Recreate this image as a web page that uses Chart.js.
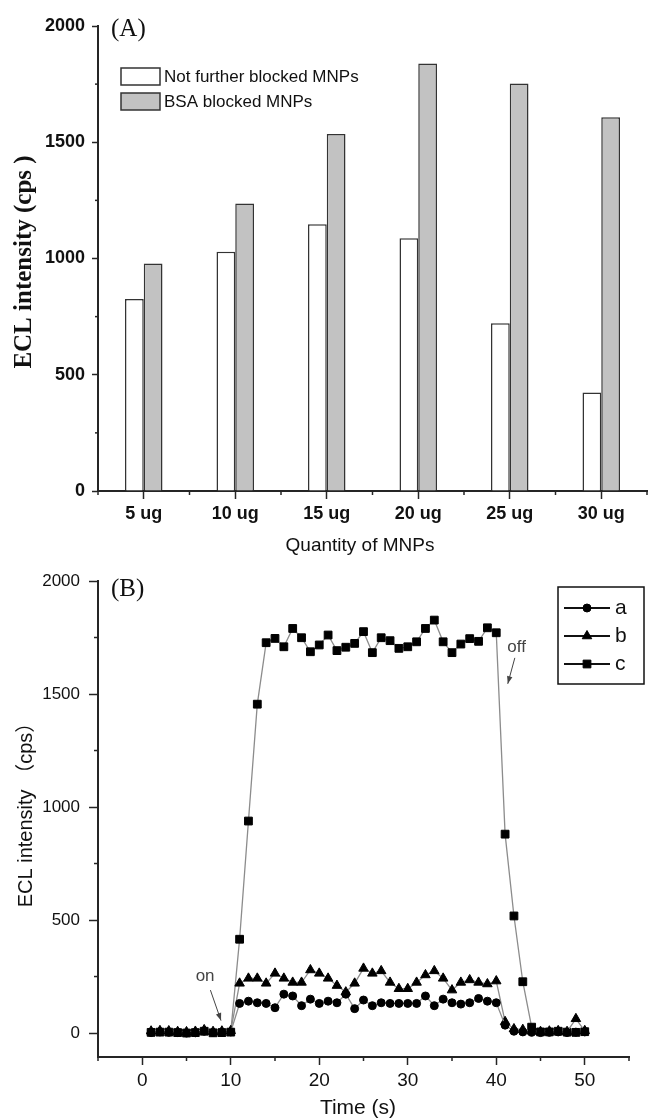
<!DOCTYPE html>
<html><head><meta charset="utf-8">
<script src="https://cdn.jsdelivr.net/npm/chart.js@4.4.1/dist/chart.umd.min.js"></script>
<style>
html,body{margin:0;padding:0;background:#fff;}
#wrap{position:relative;width:648px;height:1120px;background:#fff;}
canvas{position:absolute;left:0;display:block;}
#ca{top:0}
#cb{top:560px}
</style></head><body>
<div id="wrap">
<canvas id="ca" width="648" height="560"></canvas>
<canvas id="cb" width="648" height="560"></canvas>
</div>
<script>
// ---------- data: panel (A) ----------
const quantities = ['5 ug', '10 ug', '15 ug', '20 ug', '25 ug', '30 ug'];
const notBlocked = [826, 1029, 1147, 1087, 721, 424];
const bsaBlocked = [978, 1237, 1535, 1839, 1753, 1607];
const intensityTicksA = [0, 500, 1000, 1500, 2000];

// ---------- data: panel (B) ----------
const times = [1,2,3,4,5,6,7,8,9,10,11,12,13,14,15,16,17,18,19,20,21,22,23,24,25,26,27,28,29,30,31,32,33,34,35,36,37,38,39,40,41,42,43,44,45,46,47,48,49,50];
const seriesA = [2,5,3,2,0,1,8,2,3,5, 131,141,134,131,112,172,164,121,150,131, 141,134,172,108,146,121,134,131,131,131, 131,164,121,150,134,128,134,153,141,134, 35,8,5,3,2,3,5,2,4,5];
const seriesB = [8,10,9,6,5,7,14,6,8,10, 220,242,242,220,264,242,224,224,279,264, 242,210,181,220,286,264,275,224,196,196, 224,257,275,242,190,224,235,224,217,230, 50,18,15,8,6,8,10,6,63,10];
const seriesC = [3,4,4,2,0,2,8,1,2,4, 415,938,1455,1727,1746,1709,1790,1749,1687,1717, 1761,1692,1707,1724,1776,1683,1749,1736,1702,1709, 1731,1790,1827,1731,1683,1721,1745,1733,1793,1771, 880,518,227,26,5,5,8,4,3,6];
const timeTicks = [0, 10, 20, 30, 40, 50];
const intensityTicksB = [0, 500, 1000, 1500, 2000];

const SANS = "'Liberation Sans', Arial, Helvetica, sans-serif";
const SERIF = "'Liberation Serif', 'Times New Roman', serif";
const AXIS = '#252525';
const TXT = '#111';
Chart.defaults.font.family = SANS;
Chart.defaults.color = TXT;

function seg(ctx, x1, y1, x2, y2) { ctx.beginPath(); ctx.moveTo(x1, y1); ctx.lineTo(x2, y2); ctx.stroke(); }
const plain = v => String(v);

// ---------- panel A ----------
const decorA = {
  id: 'decorA',
  afterDraw(chart) {
    const { ctx, chartArea: ca, scales: { x, y } } = chart;
    ctx.save();
    ctx.strokeStyle = AXIS; ctx.lineWidth = 1.5;
    for (let v = 250; v < 2000; v += 500) {
      const py = y.getPixelForValue(v);
      seg(ctx, ca.left - 3, py, ca.left, py);
    }
    const n = chart.data.labels.length;
    const w = (ca.right - ca.left) / n;
    for (let i = 0; i <= n; i++) {
      const px = ca.left + i * w;
      seg(ctx, px, ca.bottom, px, ca.bottom + 4);
    }
    ctx.fillStyle = TXT; ctx.textBaseline = 'middle'; ctx.textAlign = 'left';
    ctx.font = '25px ' + SERIF;
    ctx.fillText('(A)', ca.left + 13, 29);
    chart.data.datasets.forEach((ds, i) => {
      const bx = 121, by = 68 + i * 25;
      ctx.fillStyle = ds.backgroundColor; ctx.fillRect(bx, by, 39, 17);
      ctx.strokeStyle = ds.borderColor; ctx.lineWidth = 1.5; ctx.strokeRect(bx, by, 39, 17);
      ctx.fillStyle = TXT; ctx.font = '17px ' + SANS;
      ctx.fillText(ds.label, 164, by + 9);
    });
    ctx.textAlign = 'center';
    ctx.font = '19px ' + SANS;
    ctx.fillText('Quantity of MNPs', 360, 546);
    ctx.save();
    ctx.translate(25, 262); ctx.rotate(-Math.PI / 2);
    ctx.font = 'bold 25px ' + SERIF;
    ctx.fillText('ECL intensity (cps )', 0, 0);
    ctx.restore();
    ctx.restore();
  }
};

new Chart(document.getElementById('ca'), {
  type: 'bar',
  data: {
    labels: quantities,
    datasets: [
      { label: 'Not further blocked MNPs', data: notBlocked, backgroundColor: '#ffffff', borderColor: '#333333', borderWidth: 1.5 },
      { label: 'BSA blocked MNPs', data: bsaBlocked, backgroundColor: '#c2c2c2', borderColor: '#333333', borderWidth: 1.5 }
    ]
  },
  options: {
    responsive: false, animation: false, devicePixelRatio: 1,
    layout: { padding: { top: 26, right: 1, left: 0, bottom: 0 }, autoPadding: false },
    datasets: { bar: { categoryPercentage: 0.41, barPercentage: 1.0 } },
    plugins: { legend: { display: false }, tooltip: { enabled: false } },
    scales: {
      x: {
        offset: true,
        grid: { offset: false, drawOnChartArea: false, drawTicks: true, tickLength: 8, tickColor: AXIS, tickWidth: 1.5 },
        border: { display: true, color: AXIS, width: 2 },
        ticks: { font: { size: 18, weight: 'bold' }, color: TXT, padding: 4, maxRotation: 0 },
        afterFit(s) { s.height = 69; }
      },
      y: {
        min: 0, max: 2000,
        grid: { drawOnChartArea: false, drawTicks: true, tickLength: 6, tickColor: AXIS, tickWidth: 1.5 },
        border: { display: true, color: AXIS, width: 2 },
        ticks: { font: { size: 18, weight: 'bold' }, color: TXT, padding: 7, callback: plain },
        afterBuildTicks(s) { s.ticks = intensityTicksA.map(v => ({ value: v })); },
        afterFit(s) { s.width = 98; }
      }
    }
  },
  plugins: [decorA]
});

// ---------- panel B ----------
const decorB = {
  id: 'decorB',
  afterDraw(chart) {
    const { ctx, chartArea: ca, scales: { x, y } } = chart;
    ctx.save();
    ctx.strokeStyle = AXIS; ctx.lineWidth = 1.5;
    for (let v = 250; v < 2000; v += 500) {
      const py = y.getPixelForValue(v);
      seg(ctx, ca.left - 4, py, ca.left, py);
    }
    for (let v = -5; v <= 55; v += 10) {
      const px = x.getPixelForValue(v);
      seg(ctx, px, ca.bottom, px, ca.bottom + 4);
    }
    ctx.fillStyle = TXT; ctx.textBaseline = 'middle'; ctx.textAlign = 'left';
    ctx.font = '25px ' + SERIF;
    ctx.fillText('(B)', ca.left + 13, 29);

    // legend box
    const lx = 558, ly = 27, lw = 86, lh = 97;
    ctx.strokeStyle = '#111'; ctx.lineWidth = 1.5;
    ctx.strokeRect(lx, ly, lw, lh);
    chart.data.datasets.forEach((ds, i) => {
      const cy = ly + 21 + i * 28;
      ctx.strokeStyle = '#111'; ctx.lineWidth = 2;
      seg(ctx, lx + 6, cy, lx + 52, cy);
      ctx.fillStyle = '#000'; ctx.strokeStyle = '#000'; ctx.lineWidth = 1;
      Chart.helpers.drawPoint(ctx, { pointStyle: ds.pointStyle, radius: ds.pointRadius, rotation: 0, borderWidth: 1 }, lx + 29, cy);
      ctx.fillStyle = TXT; ctx.font = '21px ' + SANS; ctx.textAlign = 'left';
      ctx.fillText(ds.label, lx + 57, cy);
    });

    // annotations
    ctx.fillStyle = '#444'; ctx.strokeStyle = '#444'; ctx.lineWidth = 1;
    ctx.font = '17px ' + SANS; ctx.textAlign = 'center';
    const arrow = (t, tx, ty, x1, y1, x2, y2) => {
      ctx.fillText(t, x.getPixelForValue(tx), y.getPixelForValue(ty));
      const p1 = [x.getPixelForValue(x1), y.getPixelForValue(y1)];
      const p2 = [x.getPixelForValue(x2), y.getPixelForValue(y2)];
      seg(ctx, p1[0], p1[1], p2[0], p2[1]);
      const a = Math.atan2(p2[1] - p1[1], p2[0] - p1[0]);
      ctx.beginPath();
      ctx.moveTo(p2[0], p2[1]);
      ctx.lineTo(p2[0] - 8 * Math.cos(a - 0.35), p2[1] - 8 * Math.sin(a - 0.35));
      ctx.lineTo(p2[0] - 8 * Math.cos(a + 0.35), p2[1] - 8 * Math.sin(a + 0.35));
      ctx.closePath(); ctx.fill();
    };
    arrow('on', 7.1, 250, 7.7, 190, 8.9, 55);
    arrow('off', 42.3, 1708, 42.1, 1660, 41.3, 1545);

    ctx.fillStyle = TXT; ctx.textAlign = 'center';
    ctx.font = '21px ' + SANS;
    ctx.fillText('Time (s)', 358, 548);
    ctx.save();
    ctx.translate(26, 250); ctx.rotate(-Math.PI / 2);
    ctx.font = "20px 'Liberation Sans', 'Noto Sans CJK SC', sans-serif";
    ctx.fillText('ECL intensity （cps）', 0, 0);
    ctx.restore();
    ctx.restore();
  }
};

const mk = (label, vals, style, r) => ({
  label, data: times.map((t, i) => ({ x: t, y: vals[i] })),
  borderColor: '#8c8c8c', borderWidth: 1.3, tension: 0, fill: false,
  pointStyle: style, pointRadius: r, pointBackgroundColor: '#000', pointBorderColor: '#000', pointBorderWidth: 1
});

new Chart(document.getElementById('cb'), {
  type: 'line',
  data: {
    datasets: [
      mk('a', seriesA, 'circle', 4),
      mk('b', seriesB, 'triangle', 5.5),
      mk('c', seriesC, 'rect', 5.5)
    ]
  },
  options: {
    responsive: false, animation: false, devicePixelRatio: 1,
    layout: { padding: { top: 21, right: 19, left: 0, bottom: 0 }, autoPadding: false },
    plugins: { legend: { display: false }, tooltip: { enabled: false } },
    scales: {
      x: {
        type: 'linear', min: -5, max: 55,
        grid: { drawOnChartArea: false, drawTicks: true, tickLength: 8, tickColor: AXIS, tickWidth: 1.5 },
        border: { display: true, color: AXIS, width: 2 },
        ticks: { font: { size: 19 }, color: TXT, padding: 4, maxRotation: 0, callback: plain },
        afterBuildTicks(s) { s.ticks = timeTicks.map(v => ({ value: v })); },
        afterFit(s) { s.height = 63; }
      },
      y: {
        min: -106, max: 2000,
        grid: { drawOnChartArea: false, drawTicks: true, tickLength: 9, tickColor: AXIS, tickWidth: 1.5 },
        border: { display: true, color: AXIS, width: 2 },
        ticks: { font: { size: 17 }, color: TXT, padding: 9, callback: plain },
        afterBuildTicks(s) { s.ticks = intensityTicksB.map(v => ({ value: v })); },
        afterFit(s) { s.width = 98; }
      }
    }
  },
  plugins: [decorB]
});
</script>
</body></html>
